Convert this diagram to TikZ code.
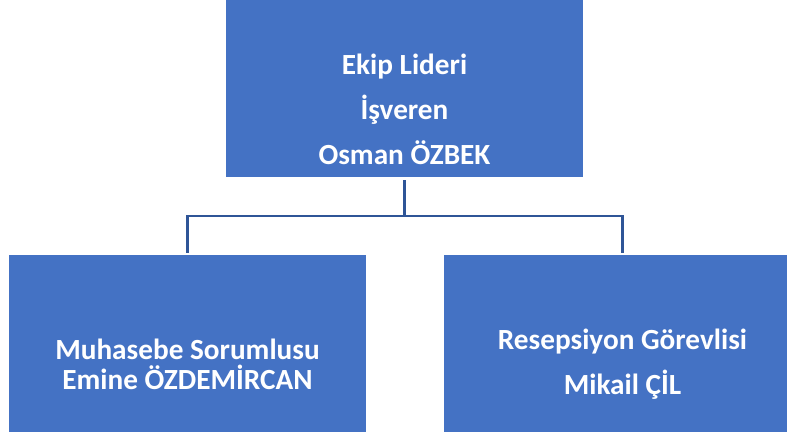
\documentclass[tikz,border=0pt]{standalone}
\usepackage{fontspec}
\setmainfont{Carlito}
\definecolor{ofisMavi}{HTML}{4472C4}
\definecolor{hatMavi}{HTML}{2F5597}
\begin{document}
\begin{tikzpicture}[
        kutu/.style = {fill = ofisMavi, draw = none, minimum width = 8.925cm, minimum height = 4.425cm, inner sep = 0pt},
        yazi/.style = {text = white, font = \bfseries\fontsize{20.8}{32}\selectfont, align = center},
        baglanti/.style = {draw = hatMavi, line width = 2pt, shorten < = 0.07cm, shorten > = 0.05cm}
    ]
        \useasboundingbox (0, 0) rectangle (19.675, -10.825);
        \clip (0, 0) rectangle (19.675, -10.825);
        \node [kutu] (lider) at (10.1125, -2.2125) {};
        \node [kutu] (muhasebe) at (4.6875, -8.5875) {};
        \node [kutu] (resepsiyon) at (15.5625, -8.5875) {};
        \coordinate (dal) at (10.1125, -5.4);
        \draw [baglanti] (lider.south) -- (dal) -| (muhasebe.north);
        \draw [baglanti, shorten < = 0pt] (dal) -| (resepsiyon.north);
        \node [yazi] (liderYazi) at (10.1125, -2.725) {Ekip Lideri\\İşveren\\Osman ÖZBEK};
        \node [yazi, font = \bfseries\fontsize{20.8}{21.5}\selectfont] (muhasebeYazi) at (4.6875, -9.1) {Muhasebe Sorumlusu\\Emine ÖZDEMİRCAN};
        \node [yazi] (resepsiyonYazi) at (15.5625, -9.1125) {Resepsiyon Görevlisi\\Mikail ÇİL};
    \end{tikzpicture}
\end{document}
